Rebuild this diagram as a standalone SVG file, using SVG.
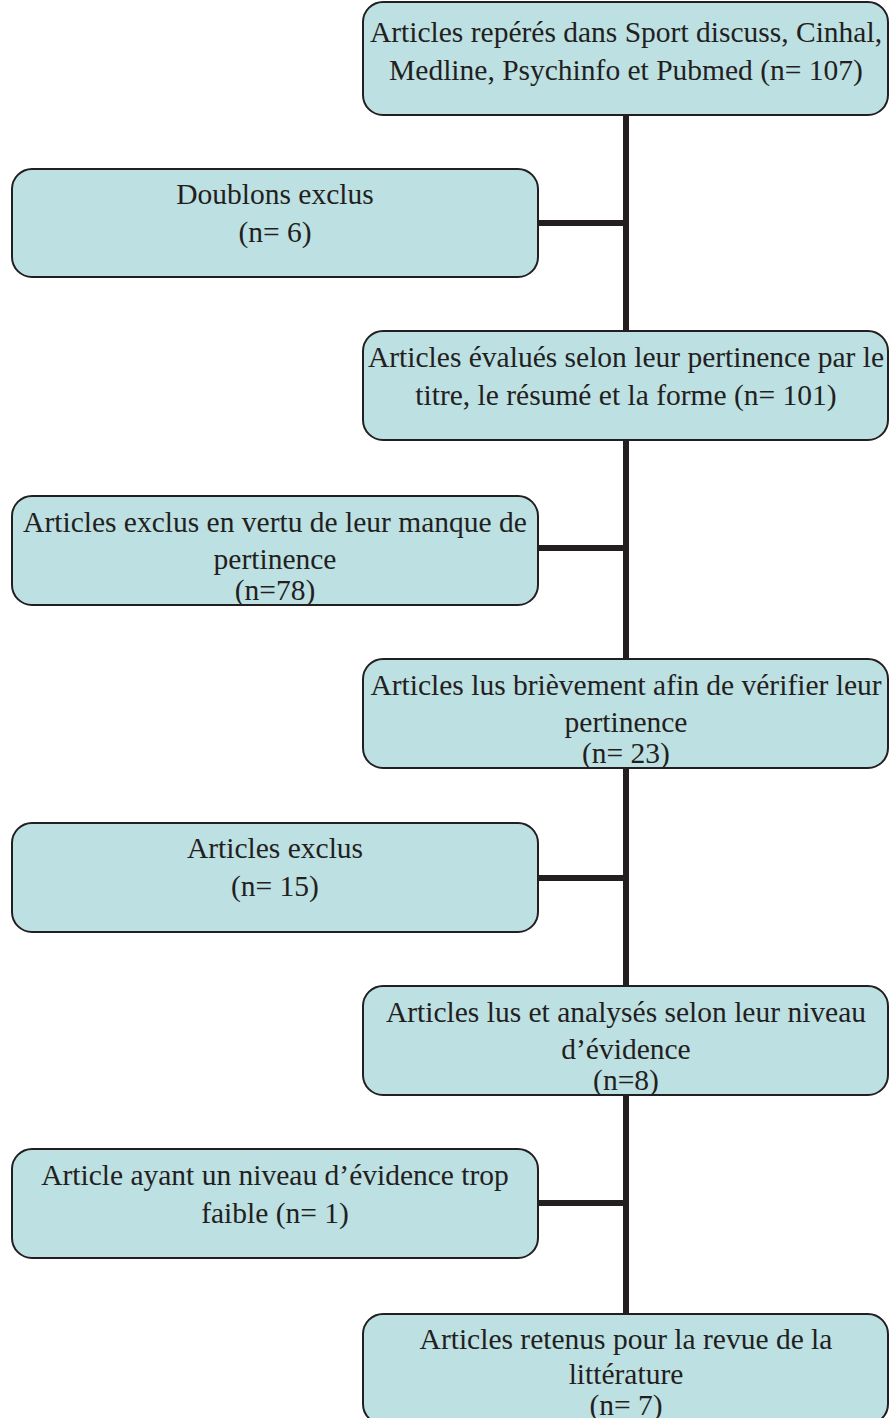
<svg xmlns="http://www.w3.org/2000/svg" width="891" height="1418" viewBox="0 0 891 1418">
<style>
.box{fill:#bde0e3;stroke:#231f20;stroke-width:2}
.t{font-family:'Liberation Serif','DejaVu Serif',serif;font-size:29.5px;fill:#231f20;text-anchor:middle}
.c{stroke:#231f20;stroke-width:6;fill:none}
</style>
<rect width="891" height="1418" fill="#ffffff"/>
<g id="connectors">
<line class="c" x1="626" y1="115" x2="626" y2="1314"/>
<line class="c" x1="538" y1="223" x2="626" y2="223"/>
<line class="c" x1="538" y1="548" x2="626" y2="548"/>
<line class="c" x1="538" y1="878" x2="626" y2="878"/>
<line class="c" x1="538" y1="1203" x2="626" y2="1203"/>
</g>
<g id="n1">
<rect class="box" x="363" y="2" width="525" height="113" rx="20"/>
<text class="t" x="626" y="42">Articles repérés dans Sport discuss, Cinhal,</text>
<text class="t" x="626" y="80">Medline, Psychinfo et Pubmed (n= 107)</text>
</g>
<g id="n2">
<rect class="box" x="12" y="169" width="526" height="108" rx="20"/>
<text class="t" x="275" y="204">Doublons exclus</text>
<text class="t" x="275" y="242">(n= 6)</text>
</g>
<g id="n3">
<rect class="box" x="363" y="331" width="525" height="109" rx="20"/>
<text class="t" x="626" y="367">Articles évalués selon leur pertinence par le</text>
<text class="t" x="626" y="405">titre, le résumé et la forme (n= 101)</text>
</g>
<g id="n4">
<rect class="box" x="12" y="496" width="526" height="109" rx="20"/>
<text class="t" x="275" y="532">Articles exclus en vertu de leur manque de</text>
<text class="t" x="275" y="569">pertinence</text>
<text class="t" x="275" y="600">(n=78)</text>
</g>
<g id="n5">
<rect class="box" x="363" y="659" width="525" height="109" rx="20"/>
<text class="t" x="626" y="695">Articles lus brièvement afin de vérifier leur</text>
<text class="t" x="626" y="732">pertinence</text>
<text class="t" x="626" y="763">(n= 23)</text>
</g>
<g id="n6">
<rect class="box" x="12" y="823" width="526" height="109" rx="20"/>
<text class="t" x="275" y="858">Articles exclus</text>
<text class="t" x="275" y="896">(n= 15)</text>
</g>
<g id="n7">
<rect class="box" x="363" y="986" width="525" height="109" rx="20"/>
<text class="t" x="626" y="1022">Articles lus et analysés selon leur niveau</text>
<text class="t" x="626" y="1059">d’évidence</text>
<text class="t" x="626" y="1090">(n=8)</text>
</g>
<g id="n8">
<rect class="box" x="12" y="1149" width="526" height="109" rx="20"/>
<text class="t" x="275" y="1185">Article ayant un niveau d’évidence trop</text>
<text class="t" x="275" y="1223">faible (n= 1)</text>
</g>
<g id="n9">
<rect class="box" x="363" y="1314" width="525" height="110" rx="20"/>
<text class="t" x="626" y="1349">Articles retenus pour la revue de la</text>
<text class="t" x="626" y="1384">littérature</text>
<text class="t" x="626" y="1415">(n= 7)</text>
</g>
</svg>
